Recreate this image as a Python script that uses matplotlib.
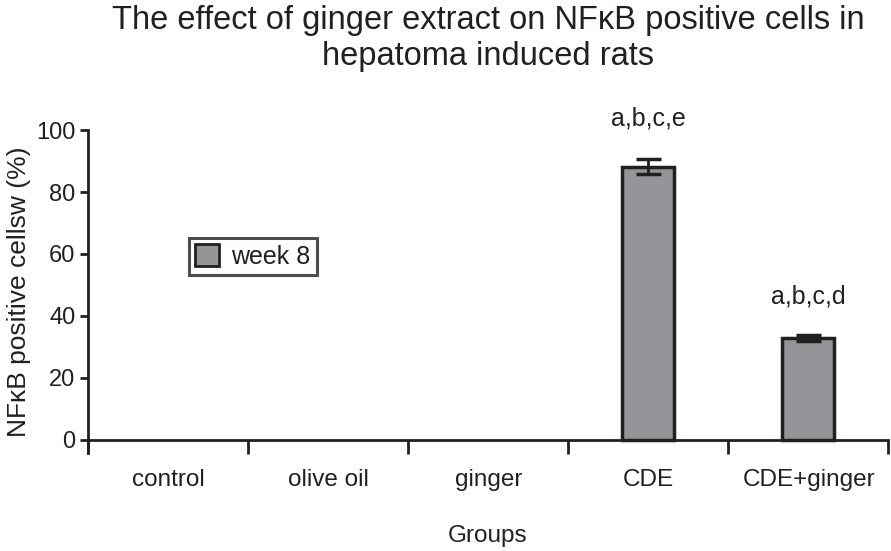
import numpy as np
import matplotlib.pyplot as plt
from matplotlib.patches import Patch

plt.rcParams['font.family'] = ['Liberation Sans', 'DejaVu Sans']

groups = ['control', 'olive oil', 'ginger', 'CDE', 'CDE+ginger']
values = [0, 0, 0, 88.2, 32.8]
errors = [0, 0, 0, 2.3, 0.9]
letters = ['', '', '', 'a,b,c,e', 'a,b,c,d']
letter_y = [0, 0, 0, 100, 42.5]

bar_color = '#939598'
ink = '#231f20'

fig = plt.figure(figsize=(8.91, 5.51), dpi=100)
ax = fig.add_axes([0.0988, 0.178, 0.8978, 0.586])

x = np.arange(len(groups))
for i in range(len(groups)):
    if values[i] > 0:
        ax.bar(x[i], values[i], width=0.32, color=bar_color, edgecolor=ink,
               linewidth=2.5, zorder=2)
        ax.errorbar(x[i], values[i], yerr=errors[i], fmt='none', ecolor=ink,
                    elinewidth=2, capsize=9, capthick=2.5, zorder=3)
    if letters[i]:
        ax.text(x[i], letter_y[i], letters[i], ha='center', va='bottom', fontsize=18, color=ink)

ax.set_xlim(-0.5, 4.5)
ax.set_ylim(-4.2, 100)
ax.spines['top'].set_visible(False)
ax.spines['right'].set_visible(False)
ax.spines['bottom'].set_position(('data', 0))
for s in ['left', 'bottom']:
    ax.spines[s].set_linewidth(2)
    ax.spines[s].set_color(ink)

ax.set_yticks([0, 20, 40, 60, 80, 100])
ax.tick_params(axis='y', labelsize=17, width=2, length=6, direction='out', color=ink,
               labelcolor=ink, pad=3)
ax.set_xticks(np.arange(-0.5, 5, 1.0))
ax.set_xticklabels([])
ax.tick_params(axis='x', width=2, length=10, direction='out', color=ink)

for i, g in enumerate(groups):
    fig.text((88 + 160.2 * (i + 0.5)) / 891, 1 - 480 / 551, g, ha='center', va='center',
             fontsize=17.5, color=ink)

cx = (88 + 888) / 2 / 891
fig.text(cx, 1 - 536 / 551, 'Groups', ha='center', va='center', fontsize=17.5, color=ink)
ax.set_ylabel('NFκB positive cellsw (%)', fontsize=19, labelpad=4, color=ink)

fig.text(cx, 1 - 20 / 551, 'The effect of ginger extract on NFκB positive cells in',
         ha='center', va='center', fontsize=23.5, color=ink)
fig.text(cx, 1 - 56 / 551, 'hepatoma induced rats', ha='center', va='center',
         fontsize=23.5, color=ink)

handle = Patch(facecolor=bar_color, edgecolor=ink, linewidth=2)
leg = ax.legend([handle], ['week 8'], loc='upper left', bbox_to_anchor=(189 / 891, 1 - 238 / 551),
                bbox_transform=fig.transFigure, fontsize=18, frameon=True, fancybox=False,
                borderaxespad=0, handlelength=0.95, handleheight=0.95, handletextpad=0.5,
                borderpad=0.25)
leg.get_frame().set_edgecolor(ink)
leg.get_frame().set_linewidth(2.2)
for t in leg.get_texts():
    t.set_color(ink)

plt.savefig('out.png', dpi=100)
